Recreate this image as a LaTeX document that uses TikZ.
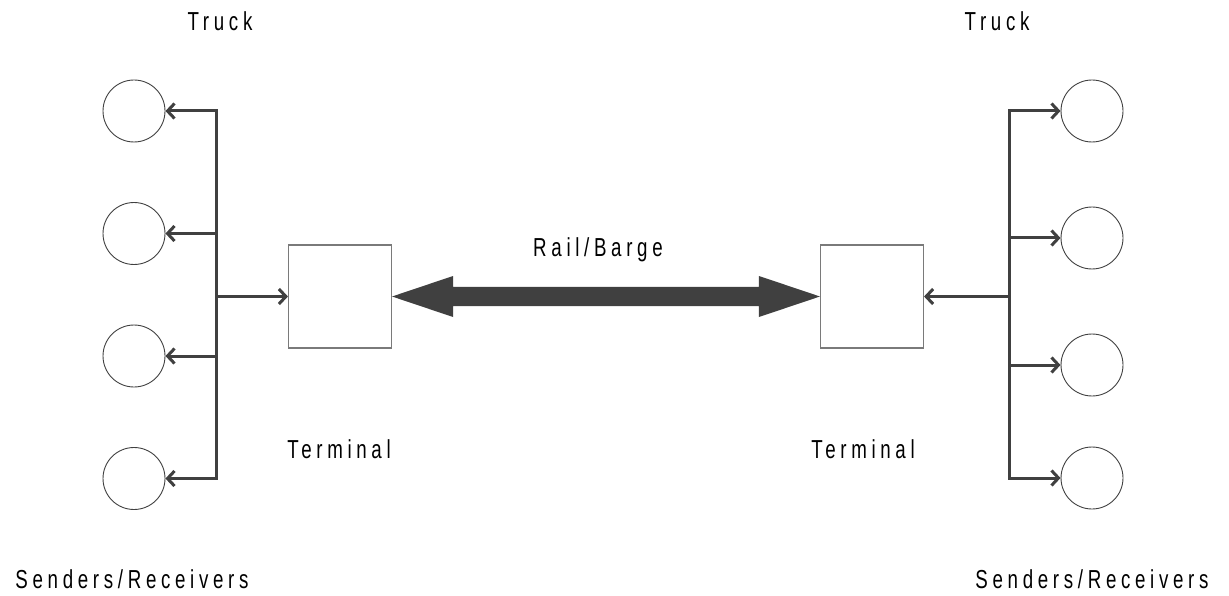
\documentclass[tikz,border=0pt]{standalone}
\usepackage{fontspec}
\newfontfamily\lblfont[FakeStretch=0.72,LetterSpace=18]{Liberation Sans}
\usetikzlibrary{arrows.meta,calc}
\definecolor{linegray}{HTML}{404040}
\definecolor{boxgray}{HTML}{7A7A7A}
\tikzset{
  conn/.style={draw=linegray, line width=3pt},
  tipped/.style={conn, -{Straight Barb[length=7pt,width=15pt]}},
  party/.style={circle, draw=linegray, line width=0.9pt, minimum size=62pt, inner sep=0pt},
  terminalbox/.style={rectangle, draw=boxgray, line width=1.1pt, minimum width=103pt, minimum height=103pt, inner sep=0pt},
  lbl/.style={anchor=base, inner sep=0pt, font=\lblfont\fontsize{26}{30}\selectfont}
}
\begin{document}
\begin{tikzpicture}[x=1pt,y=-1pt]
\useasboundingbox (0,0) rectangle (1229,596);
% terminals
\node[terminalbox] (bL) at (340,296.5) {};
\node[terminalbox] (bR) at (872,296.5) {};
% left parties
\node[party] (cL1) at (134,111) {};
\node[party] (cL2) at (134,233.5) {};
\node[party] (cL3) at (134,356) {};
\node[party] (cL4) at (134,478.5) {};
% right parties
\node[party] (cR1) at (1092,111) {};
\node[party] (cR2) at (1092,238) {};
\node[party] (cR3) at (1092,365) {};
\node[party] (cR4) at (1092,478) {};
% junctions
\coordinate (jL1) at (216,111);
\coordinate (jL2) at (216,233.5);
\coordinate (jL3) at (216,356);
\coordinate (jL4) at (216,478.5);
\coordinate (jLm) at (216,296.5);
\coordinate (jR1) at (1009,111);
\coordinate (jR2) at (1009,238);
\coordinate (jR3) at (1009,365);
\coordinate (jR4) at (1009,478);
\coordinate (jRm) at (1009,296.5);
% left bus
\draw[conn, line cap=rect] (jL1) -- (jL4);
\foreach \i in {1,...,4} \draw[tipped] (jL\i) -- (cL\i);
\draw[tipped] (jLm) -- (bL);
% right bus
\draw[conn, line cap=rect] (jR1) -- (jR4);
\foreach \i in {1,...,4} \draw[tipped] (jR\i) -- (cR\i);
\draw[tipped] (jRm) -- (bR);
% rail/barge double arrow
\fill[linegray] (bL.east) -- ($(bL.east)+(61,-20.5)$) -- ($(bL.east)+(61,-9.7)$)
  -- ($(bR.west)+(-61,-9.7)$) -- ($(bR.west)+(-61,-20.5)$) -- (bR.west)
  -- ($(bR.west)+(-61,20.5)$) -- ($(bR.west)+(-61,9.7)$)
  -- ($(bL.east)+(61,9.7)$) -- ($(bL.east)+(61,20.5)$) -- cycle;
% labels
\node[lbl] (tTruckL) at (220,31) {Truck};
\node[lbl] (tTruckR) at (997,31) {Truck};
\node[lbl] (tRail) at (598,257) {Rail/Barge};
\node[lbl] (tTermL) at (339,458) {Terminal};
\node[lbl] (tTermR) at (863,458) {Terminal};
\node[lbl] (tSendL) at (132,588) {Senders/Receivers};
\node[lbl] (tSendR) at (1092,588) {Senders/Receivers};
\end{tikzpicture}
\end{document}
